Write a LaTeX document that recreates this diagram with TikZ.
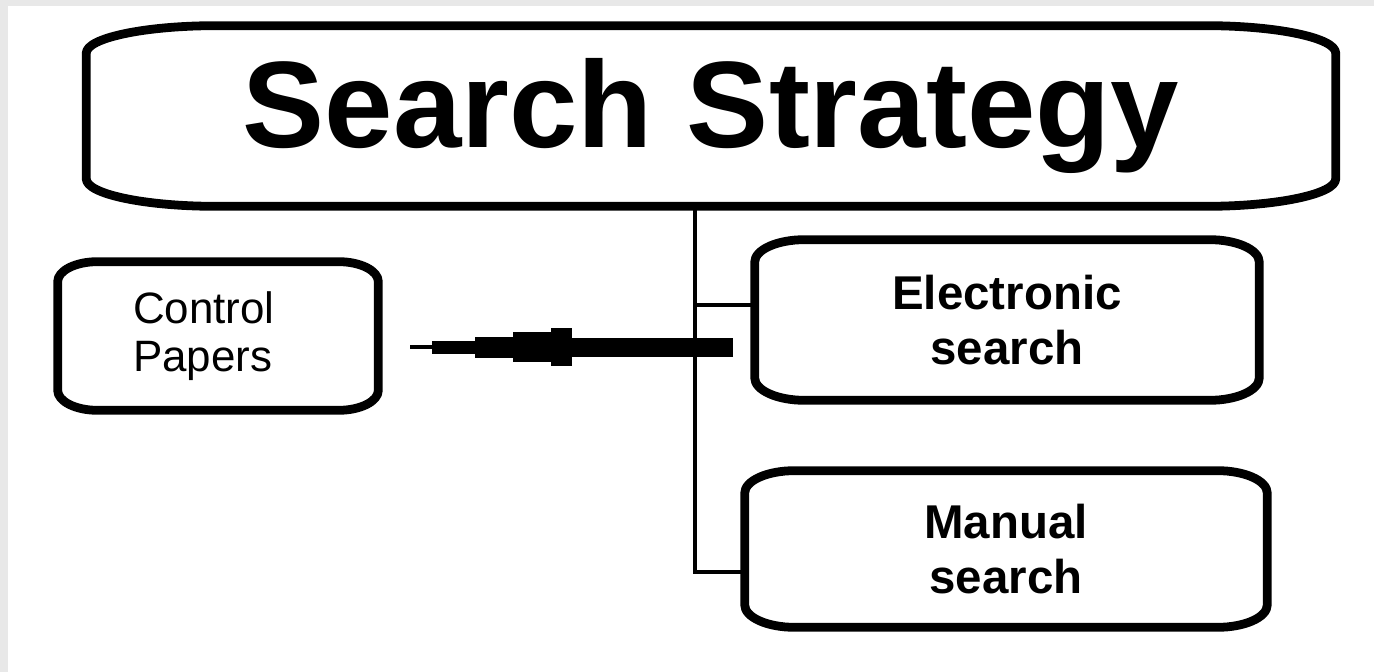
\documentclass[tikz,border=0pt]{standalone}
\usepackage{fontspec}
\setmainfont{Liberation Sans}

% frame with soft oval corners round a named node: node, corner width, corner height
\newcommand{\ovalframe}[3]{%
  \draw[line width=5pt, line join=round] ([xshift=#2]#1.north west) -- ([xshift=-#2]#1.north east)
    arc[start angle=90, end angle=0, x radius=#2, y radius=#3] -- ([yshift=#3]#1.south east)
    arc[start angle=0, end angle=-90, x radius=#2, y radius=#3] -- ([xshift=#2]#1.south west)
    arc[start angle=270, end angle=180, x radius=#2, y radius=#3] -- ([yshift=-#3]#1.north west)
    arc[start angle=180, end angle=90, x radius=#2, y radius=#3] -- cycle;}

\tikzset{
  box/.style={rectangle, inner sep=0pt, align=center},
  smallbox/.style={box, font=\fontsize{27}{31}\selectfont\bfseries},
  link/.style={line width=1.8pt}
}

\begin{document}
\begin{tikzpicture}[x=0.02cm, y=-0.02cm]
  % Frame and background
  \fill[gray!18] (0,0) rectangle (1374,672);
  \fill[white] (8,6) rectangle (1374,672);
  \useasboundingbox (0,0) rectangle (1374,672);
  % Boxes
  \node[box, minimum width=24.98cm, minimum height=3.6cm,
    font=\fontsize{70}{70}\selectfont\bfseries] (strategy) at (711,116) {Search Strategy};
  \node[smallbox, minimum width=6.4cm, minimum height=2.96cm, text width=3.4cm,
    font=\fontsize{25}{27}\selectfont, align=left] (control) at (218,336) {Control\\Papers};
  \node[smallbox, minimum width=10.08cm, minimum height=3.2cm] (electronic) at (1007,320) {Electronic\\search};
  \node[smallbox, minimum width=10.44cm, minimum height=3.12cm] (manual) at (1006,549) {Manual\\search};
  \ovalframe{strategy}{2.6cm}{0.55cm}
  \ovalframe{control}{0.8cm}{0.4cm}
  \ovalframe{electronic}{1.0cm}{0.45cm}
  \ovalframe{manual}{1.0cm}{0.45cm}
  % Tree links
  \coordinate (split) at (695,305);
  \coordinate (join) at (695,572);
  \draw[link] (strategy.south -| split) -- (join) -- (manual.west |- join);
  \draw[link] (split) -- (electronic.west |- split);
  % Stepped arrow to the control papers
  \coordinate (tail) at (733,347.5);
  \coordinate (tip) at (410,347.5);
  \draw[line width=19*0.02cm] (tail) -- (572,347.5);
  \foreach \from/\to/\w in {572/551/38, 551/513/30, 513/475/21, 475/432/13}
    \draw[line width=\w*0.02cm] (\from,347.5) -- (\to,347.5);
  \draw[line width=4*0.02cm] (432,347.5) -- (tip);
\end{tikzpicture}
\end{document}
